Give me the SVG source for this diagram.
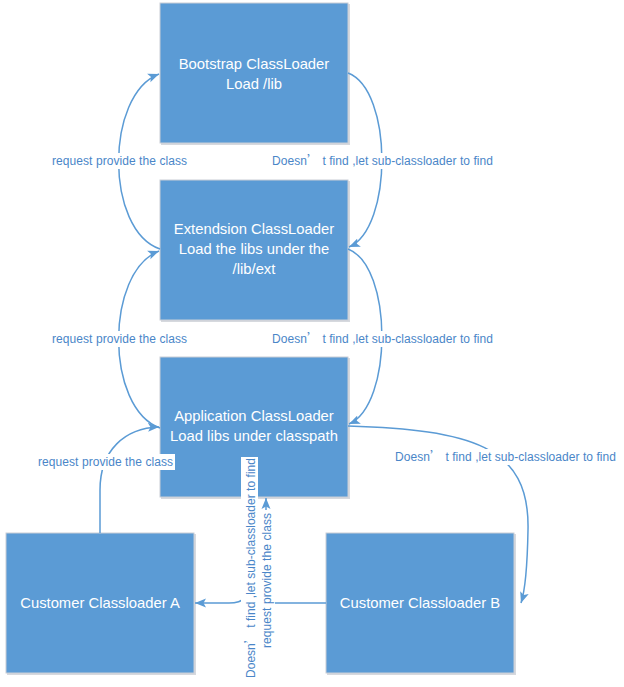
<svg xmlns="http://www.w3.org/2000/svg" width="624" height="687" viewBox="0 0 624 687">
<style>
.box{fill:#5B9BD5;stroke:#C9CED6;stroke-width:1}
.shadow{fill:#D6D9DE}
.bt{font-family:"Liberation Sans","Noto Sans",sans-serif;font-size:14.8px;fill:#FFFFFF;text-anchor:middle}
.conn{fill:none;stroke:#5B9BD5;stroke-width:1.5}
.lbl{font-family:"Liberation Sans","Noto Sans","Noto Sans CJK SC",sans-serif;font-size:12px;fill:#4A86C8}
.cjk{font-family:"Noto Sans CJK SC",sans-serif}
.lbg{fill:#FFFFFF}
</style>
<defs>
<marker id="arr" markerUnits="userSpaceOnUse" markerWidth="12" markerHeight="10" refX="11" refY="5" orient="auto">
<path d="M0,0.5 L11,5 L0,9.5 L2.5,5 z" fill="#5B9BD5"/>
</marker>
</defs>
<g id="nodes">
<g id="bootstrap">
<rect class="shadow" x="161" y="4" width="189" height="141"/>
<rect class="box" x="160" y="3" width="188" height="140"/>
<text class="bt" x="254" y="69">Bootstrap ClassLoader</text>
<text class="bt" x="254" y="89">Load /lib</text>
</g>
<g id="extension">
<rect class="shadow" x="161" y="181" width="189" height="141"/>
<rect class="box" x="160" y="180" width="188" height="140"/>
<text class="bt" x="254" y="234">Extendsion ClassLoader</text>
<text class="bt" x="254" y="254">Load the libs under the</text>
<text class="bt" x="254" y="274">/lib/ext</text>
</g>
<g id="application">
<rect class="shadow" x="161" y="358" width="189" height="141"/>
<rect class="box" x="160" y="357" width="188" height="140"/>
<text class="bt" x="254" y="421">Application ClassLoader</text>
<text class="bt" x="254" y="441">Load libs under classpath</text>
</g>
<g id="customerA">
<rect class="shadow" x="7" y="534" width="189" height="141"/>
<rect class="box" x="6" y="533" width="188" height="140"/>
<text class="bt" x="100" y="608">Customer Classloader A</text>
</g>
<g id="customerB">
<rect class="shadow" x="327" y="534" width="189" height="141"/>
<rect class="box" x="326" y="533" width="188" height="140"/>
<text class="bt" x="420" y="608">Customer Classloader B</text>
</g>
</g>
<g id="connectors">
<path class="conn" d="M160,249 C105,230 105,95 159,74" marker-end="url(#arr)"/>
<path class="conn" d="M160,428 C105,408 105,272 159,251" marker-end="url(#arr)"/>
<path class="conn" d="M348,73 C393,90 393,228 349,247" marker-end="url(#arr)"/>
<path class="conn" d="M348,249 C393,266 393,405 349,424" marker-end="url(#arr)"/>
<path class="conn" d="M348,426 C470,430 530,445 528,530 Q527,585 521,603" marker-end="url(#arr)"/>
<path class="conn" d="M100,533 L100,490 C100,450 125,428 159,427" marker-end="url(#arr)"/>
<path class="conn" d="M251,497 L251,582 Q251,603 229,603 L195,603" marker-end="url(#arr)"/>
<path class="conn" d="M326,603 L266,603 L266,498" marker-end="url(#arr)"/>
</g>
<g id="labels">
<rect class="lbg" x="50" y="153" width="139" height="16"/>
<text class="lbl" x="52" y="165" textLength="135" lengthAdjust="spacing">request provide the class</text>
<rect class="lbg" x="270" y="153" width="226" height="16"/>
<text class="lbl" x="272" y="165" textLength="221" lengthAdjust="spacing">Doesn<tspan class="cjk">’</tspan> t find ,let sub-classloader to find</text>
<rect class="lbg" x="50" y="331" width="139" height="16"/>
<text class="lbl" x="52" y="343" textLength="135" lengthAdjust="spacing">request provide the class</text>
<rect class="lbg" x="270" y="331" width="226" height="16"/>
<text class="lbl" x="272" y="343" textLength="221" lengthAdjust="spacing">Doesn<tspan class="cjk">’</tspan> t find ,let sub-classloader to find</text>
<rect class="lbg" x="36" y="454" width="139" height="16"/>
<text class="lbl" x="38" y="466" textLength="135" lengthAdjust="spacing">request provide the class</text>
<rect class="lbg" x="393" y="449" width="226" height="16"/>
<text class="lbl" x="395" y="461" textLength="221" lengthAdjust="spacing">Doesn<tspan class="cjk">’</tspan> t find ,let sub-classloader to find</text>
<g transform="translate(255,678) rotate(-90)">
<rect class="lbg" x="-2" y="-14" width="223" height="17"/>
<text class="lbl" x="0" y="0" textLength="220" lengthAdjust="spacing">Doesn<tspan class="cjk">’</tspan> t find ,let sub-classloader to find</text>
</g>
<g transform="translate(271,648) rotate(-90)">
<rect class="lbg" x="-2" y="-12" width="140" height="16"/>
<text class="lbl" x="0" y="0" textLength="135" lengthAdjust="spacing">request provide the class</text>
</g>
</g>
</svg>
